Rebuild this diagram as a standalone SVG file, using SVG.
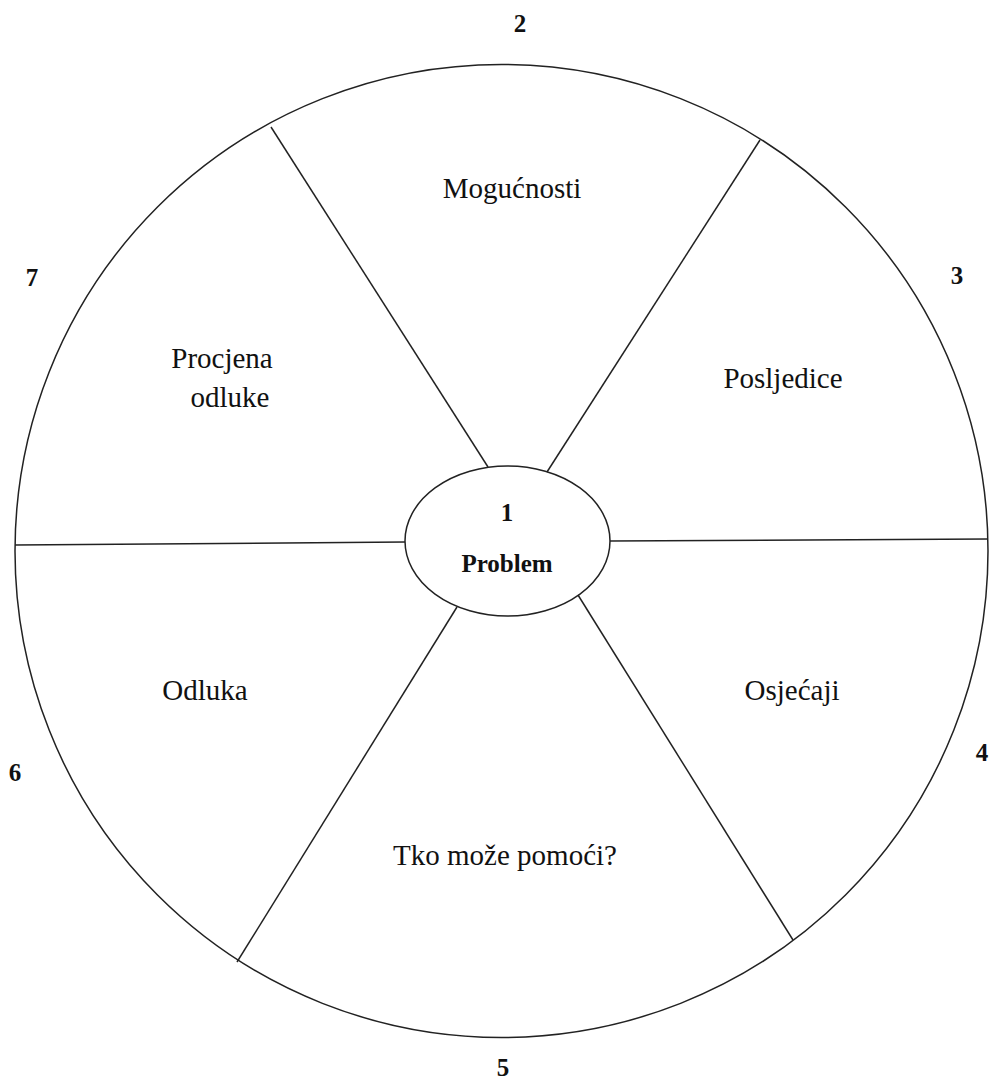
<svg xmlns="http://www.w3.org/2000/svg" width="990" height="1079" viewBox="0 0 990 1079">
<style>
.ln{stroke:#222;stroke-width:1.5;fill:none}
.lbl{font-family:"Liberation Serif","Times New Roman",serif;font-size:29px;fill:#111;text-anchor:middle}
.num{font-family:"Liberation Serif","Times New Roman",serif;font-size:25px;font-weight:bold;fill:#111;text-anchor:middle}
</style>
<rect width="990" height="1079" fill="#fff"/>
<g id="wheel">
<circle cx="501.5" cy="551" r="486.5" class="ln" stroke-width="2"/>
</g>
<g id="connectors">
<line x1="271" y1="127" x2="488" y2="467" class="ln"/>
<line x1="760" y1="140" x2="547" y2="472" class="ln"/>
<line x1="610" y1="541" x2="988" y2="539" class="ln"/>
<line x1="15" y1="545" x2="405" y2="542" class="ln"/>
<line x1="237" y1="962" x2="457" y2="607" class="ln"/>
<line x1="793" y1="940" x2="578" y2="595" class="ln"/>
</g>
<g id="problem">
<ellipse cx="507.5" cy="541" rx="102.5" ry="75" class="ln" fill="#fff" stroke-width="2"/>
<text x="507" y="521" class="num">1</text>
<text x="507" y="572" class="num" font-size="28">Problem</text>
</g>
<g id="mogucnosti"><text x="512" y="198" class="lbl">Mogućnosti</text></g>
<g id="posljedice"><text x="783" y="388" class="lbl">Posljedice</text></g>
<g id="procjena"><text x="222" y="368" class="lbl">Procjena</text><text x="230" y="407" class="lbl">odluke</text></g>
<g id="odluka"><text x="205" y="700" class="lbl">Odluka</text></g>
<g id="osjecaji"><text x="792" y="700" class="lbl">Osjećaji</text></g>
<g id="tko"><text x="505" y="865" class="lbl">Tko može pomoći?</text></g>
<g id="numbers">
<text x="520" y="32" class="num">2</text>
<text x="957" y="284" class="num">3</text>
<text x="982" y="761" class="num">4</text>
<text x="503" y="1076" class="num">5</text>
<text x="15" y="781" class="num">6</text>
<text x="32" y="286" class="num">7</text>
</g>
</svg>
